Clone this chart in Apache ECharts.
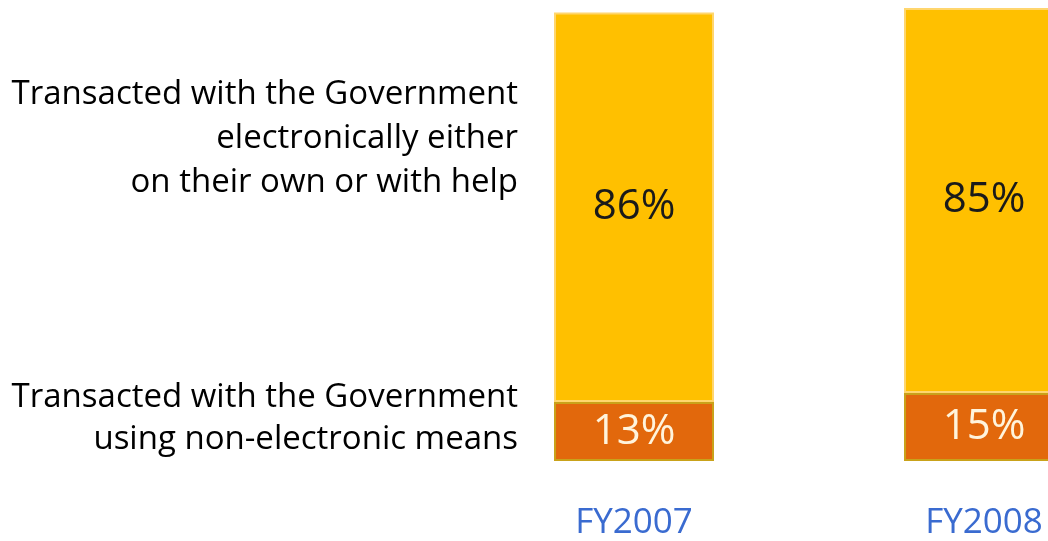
<!DOCTYPE html>
<html>
<head>
<meta charset="utf-8">
<script src="https://cdn.jsdelivr.net/npm/echarts@6/dist/echarts.min.js"></script>
<style>html,body{margin:0;padding:0;background:#fff;}#c{width:1048px;height:541px;}</style>
</head>
<body>
<div id="c"></div>
<script>
const categories = ['FY2007', 'FY2008'];
const nonElectronic = [13, 15];
const electronic = [86, 85];
const seriesNames = [
  'Transacted with the Government\nusing non-electronic means',
  'Transacted with the Government\nelectronically either\non their own or with help'
];

const chart = echarts.init(document.getElementById('c'));
const font = '"Open Sans", "Noto Sans", sans-serif';
chart.setOption({
  animation: false,
  backgroundColor: '#ffffff',
  grid: { left: 459, width: 700, top: 8, bottom: 80, outerBoundsMode: 'none', containLabel: false },
  xAxis: {
    type: 'category', data: categories,
    axisLine: { show: false }, axisTick: { show: false },
    axisLabel: { color: '#3A6BD0', fontSize: 35, fontFamily: font, margin: 45 }
  },
  yAxis: { type: 'value', min: 0, max: 100, show: false, splitLine: { show: false } },
  series: [
    {
      name: seriesNames[0], type: 'bar', stack: 's', barWidth: 160,
      data: nonElectronic,
      itemStyle: { color: '#E2680C', borderColor: '#C9A21A', borderWidth: 2 },
      label: { show: true, position: 'inside', formatter: '{c}%', color: '#FFF4DC', fontSize: 42, fontFamily: font }
    },
    {
      name: seriesNames[1], type: 'bar', stack: 's', barWidth: 160,
      data: electronic,
      itemStyle: { color: '#FFC000', borderColor: '#FFD66E', borderWidth: 2 },
      label: { show: true, position: 'inside', formatter: '{c}%', color: '#1A1A1A', fontSize: 42, fontFamily: font }
    }
  ],
  graphic: [
    {
      type: 'text', right: 530, top: 73,
      style: { text: seriesNames[1], textAlign: 'right', fill: '#000', font: '33px ' + font, lineHeight: 44 }
    },
    {
      type: 'text', right: 530, top: 377,
      style: { text: seriesNames[0], textAlign: 'right', fill: '#000', font: '33px ' + font, lineHeight: 42 }
    }
  ]
});
</script>
</body>
</html>
